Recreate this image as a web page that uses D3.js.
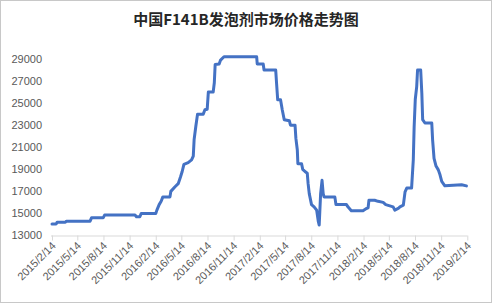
<!DOCTYPE html>
<html>
<head>
<meta charset="utf-8">
<script src="https://cdn.jsdelivr.net/npm/d3@7"></script>
<style>
  body { margin: 0; background: #fff; }
  svg { display: block; }
</style>
</head>
<body>
<script>
var title = '中国F141B发泡剂市场价格走势图';

// price readings, date + value
var dates = [
  '2015-02-14','2015-03-01','2015-03-04','2015-04-02','2015-04-06','2015-06-28','2015-07-03',
  '2015-08-13','2015-08-18','2015-12-03','2015-12-08','2015-12-20','2015-12-25','2016-02-14',
  '2016-02-18','2016-02-26','2016-03-04','2016-03-10','2016-04-04','2016-04-07','2016-04-21',
  '2016-05-03','2016-05-11','2016-05-17','2016-05-23','2016-06-07','2016-06-19','2016-06-25',
  '2016-06-28','2016-07-04','2016-07-10','2016-07-30','2016-08-05','2016-08-13','2016-08-17',
  '2016-09-03','2016-09-07','2016-09-10','2016-09-24','2016-09-29','2016-10-11','2017-02-03',
  '2017-02-05','2017-02-26','2017-03-01','2017-04-11','2017-04-14','2017-04-18','2017-04-28',
  '2017-05-04','2017-05-11','2017-05-29','2017-06-02','2017-06-18','2017-06-21','2017-06-26',
  '2017-06-28','2017-07-11','2017-07-15','2017-07-23','2017-07-31','2017-08-03','2017-08-07',
  '2017-08-15','2017-08-24','2017-09-02','2017-09-08','2017-09-11','2017-09-16','2017-09-21',
  '2017-09-25','2017-09-28','2017-11-05','2017-11-09','2017-12-16','2017-12-21','2018-01-02',
  '2018-02-12','2018-02-24','2018-03-02','2018-03-05','2018-03-25','2018-04-06','2018-04-24',
  '2018-05-03','2018-05-29','2018-06-04','2018-06-16','2018-06-22','2018-07-04','2018-07-10',
  '2018-07-16','2018-08-02','2018-08-08','2018-08-11','2018-08-15','2018-08-20','2018-08-23',
  '2018-09-03','2018-09-07','2018-09-10','2018-09-18','2018-10-12','2018-10-15','2018-10-20',
  '2018-10-27','2018-11-04','2018-11-10','2018-11-16','2018-11-27','2019-01-25','2019-02-11'
];
var prices = [
  14050,14050,14200,14200,14300,14300,14600,
  14600,14850,14850,14700,14700,15000,15000,
  15300,15800,16100,16500,16500,17000,17400,
  17700,18300,18800,19450,19600,19850,20200,
  21700,22900,24000,24000,24400,24450,26000,
  26000,26850,28500,28550,28900,29200,29200,
  28550,28550,28000,28000,26800,25300,25300,
  24400,23500,23400,23000,23000,21800,20750,
  19500,19500,19000,18800,18650,17700,16800,
  15800,15600,15300,14250,13950,16800,18000,
  16800,16500,16500,15800,15800,15600,15250,
  15250,15450,15500,16200,16200,16100,16000,
  15800,15600,15300,15450,15600,15750,16950,
  17300,17300,19850,22850,25350,26500,28000,
  28000,25900,23500,23200,23200,21650,20000,
  19300,18950,18500,17900,17500,17600,17500
];
var yTicks = [13000, 15000, 17000, 19000, 21000, 23000, 25000, 27000, 29000];
var xTickDates = [
  '2015-02-14','2015-05-14','2015-08-14','2015-11-14','2016-02-14','2016-05-14','2016-08-14',
  '2016-11-14','2017-02-14','2017-05-14','2017-08-14','2017-11-14','2018-02-14','2018-05-14',
  '2018-08-14','2018-11-14','2019-02-14'
];

var width = 492, height = 303;
var parse = d3.timeParse('%Y-%m-%d');
var fmt = function(d){ return d.getFullYear() + '/' + (d.getMonth() + 1) + '/' + d.getDate(); };

var data = dates.map(function(d, i){ return { date: parse(d), value: prices[i] }; });

var svg = d3.select('body').append('svg')
  .attr('width', width)
  .attr('height', height);

svg.append('rect')
  .attr('x', 0.5).attr('y', 0.5)
  .attr('width', width - 1).attr('height', height - 1)
  .attr('fill', '#fff')
  .attr('stroke', '#c8c8c8');

var x = d3.scaleTime()
  .domain([parse('2015-02-14'), parse('2019-02-14')])
  .range([52, 467.3]);
var y = d3.scaleLinear()
  .domain([13000, 29000])
  .range([235.5, 59]);

svg.append('text')
  .attr('x', 246).attr('y', 25)
  .attr('text-anchor', 'middle')
  .style('font-family', '"Noto Sans CJK SC", sans-serif')
  .style('font-size', '15px')
  .style('font-weight', 'bold')
  .style('fill', '#262626')
  .text(title);

// y labels, no axis line
svg.append('g').selectAll('text')
  .data(yTicks)
  .enter().append('text')
  .attr('x', 42)
  .attr('y', function(d){ return y(d); })
  .attr('dy', '0.35em')
  .attr('text-anchor', 'end')
  .style('font-family', '"Liberation Sans", Arial, sans-serif')
  .style('font-size', '11px')
  .style('fill', '#595959')
  .text(function(d){ return d; });

// x axis
var xAxis = d3.axisBottom(x)
  .tickValues(xTickDates.map(parse))
  .tickSize(5)
  .tickFormat(fmt);

var gx = svg.append('g')
  .attr('transform', 'translate(0,' + 235.5 + ')')
  .call(xAxis);
gx.select('.domain').attr('stroke', '#d9d9d9').attr('d', 'M51,0.5H467.3');
gx.selectAll('.tick line').attr('stroke', '#d9d9d9');
gx.selectAll('.tick text')
  .attr('y', 0).attr('dy', 0)
  .attr('transform', 'translate(4,11) rotate(-45)')
  .attr('text-anchor', 'end')
  .style('font-family', '"Liberation Sans", Arial, sans-serif')
  .style('font-size', '11px')
  .style('fill', '#595959');

var line = d3.line()
  .x(function(d){ return x(d.date); })
  .y(function(d){ return y(d.value); });

svg.append('path')
  .datum(data)
  .attr('d', line)
  .attr('fill', 'none')
  .attr('stroke', '#4472c4')
  .attr('stroke-width', 3)
  .attr('stroke-linejoin', 'round')
  .attr('stroke-linecap', 'round');
</script>
</body>
</html>
